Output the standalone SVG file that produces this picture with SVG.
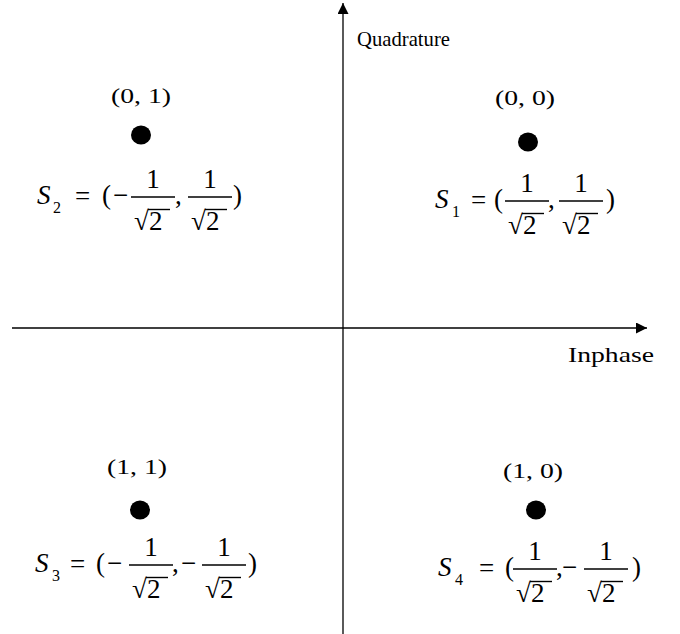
<svg xmlns="http://www.w3.org/2000/svg" xmlns:xlink="http://www.w3.org/1999/xlink" width="680" height="634" viewBox="0 0 680 634">
<style>
text{font-family:"Liberation Serif","Times New Roman",serif;fill:#000}
.t{font-size:27px}
.lab{font-size:22px}
.ax{font-size:22px}
.s{font-size:27px;font-style:italic}
.sub{font-size:16px}
.bar{stroke:#000;stroke-width:1.4}
.axis{stroke:#000;stroke-width:1.3;fill:none}
.dot{fill:#000}
</style>
<defs>
<marker id="arr" viewBox="0 0 10 10" refX="10" refY="5" markerWidth="14" markerHeight="11" markerUnits="userSpaceOnUse" orient="auto"><path d="M0,0 L10,5 L0,10 z" fill="#000"/></marker>
<g id="frac">
<line class="bar" x1="-22" y1="0" x2="22" y2="0"/>
<text class="t" x="0" y="-9" text-anchor="middle">1</text>
<text class="t" x="-19" y="33">√</text>
<text class="t" x="-4" y="33">2</text>
<line class="bar" x1="-5" y1="12.5" x2="17" y2="12.5"/>
</g>
</defs>
<g id="connectors">
<line class="axis" x1="343" y1="634" x2="343" y2="3" marker-end="url(#arr)"/>
<line class="axis" x1="12" y1="328" x2="647" y2="328" marker-end="url(#arr)"/>
</g>
<g id="axis-labels">
<text class="ax" x="357" y="46" textLength="93" lengthAdjust="spacingAndGlyphs">Quadrature</text>
<text class="ax" x="568" y="362" textLength="86" lengthAdjust="spacingAndGlyphs">Inphase</text>
</g>
<g id="S2">
<text class="lab" x="141" y="103" text-anchor="middle" textLength="60" lengthAdjust="spacingAndGlyphs">(0, 1)</text>
<ellipse class="dot" cx="141" cy="135" rx="10" ry="9.5"/>
<text class="s" x="37" y="204">S</text><text class="sub" x="53" y="213">2</text>
<text class="t" x="75" y="205">=</text>
<text class="t" x="102" y="204">(</text>
<text class="t" x="113" y="204">−</text>
<use xlink:href="#frac" x="153" y="197"/>
<text class="t" x="175" y="204">,</text>
<use xlink:href="#frac" x="210" y="197"/>
<text class="t" x="233" y="204">)</text>
</g>
<g id="S1">
<text class="lab" x="525" y="105" text-anchor="middle" textLength="60" lengthAdjust="spacingAndGlyphs">(0, 0)</text>
<ellipse class="dot" cx="528" cy="142" rx="10" ry="9.5"/>
<text class="s" x="435" y="208">S</text><text class="sub" x="452" y="217">1</text>
<text class="t" x="471" y="209">=</text>
<text class="t" x="494" y="208">(</text>
<use xlink:href="#frac" x="527" y="201"/>
<text class="t" x="548" y="208">,</text>
<use xlink:href="#frac" x="581" y="201"/>
<text class="t" x="606" y="208">)</text>
</g>
<g id="S3">
<text class="lab" x="137" y="474" text-anchor="middle" textLength="60" lengthAdjust="spacingAndGlyphs">(1, 1)</text>
<ellipse class="dot" cx="140" cy="510" rx="10" ry="9.5"/>
<text class="s" x="35" y="572">S</text><text class="sub" x="52" y="581">3</text>
<text class="t" x="70" y="573">=</text>
<text class="t" x="96" y="572">(</text>
<text class="t" x="107" y="572">−</text>
<use xlink:href="#frac" x="151" y="565"/>
<text class="t" x="172" y="572">,</text>
<text class="t" x="181" y="572">−</text>
<use xlink:href="#frac" x="224" y="565"/>
<text class="t" x="248" y="572">)</text>
</g>
<g id="S4">
<text class="lab" x="533" y="478" text-anchor="middle" textLength="60" lengthAdjust="spacingAndGlyphs">(1, 0)</text>
<ellipse class="dot" cx="536" cy="510" rx="10" ry="9.5"/>
<text class="s" x="438" y="576">S</text><text class="sub" x="455" y="585">4</text>
<text class="t" x="479" y="577">=</text>
<text class="t" x="505" y="576">(</text>
<use xlink:href="#frac" x="535" y="569"/>
<text class="t" x="556" y="576">,</text>
<text class="t" x="562" y="576">−</text>
<use xlink:href="#frac" x="606" y="569"/>
<text class="t" x="632" y="576">)</text>
</g>
</svg>
